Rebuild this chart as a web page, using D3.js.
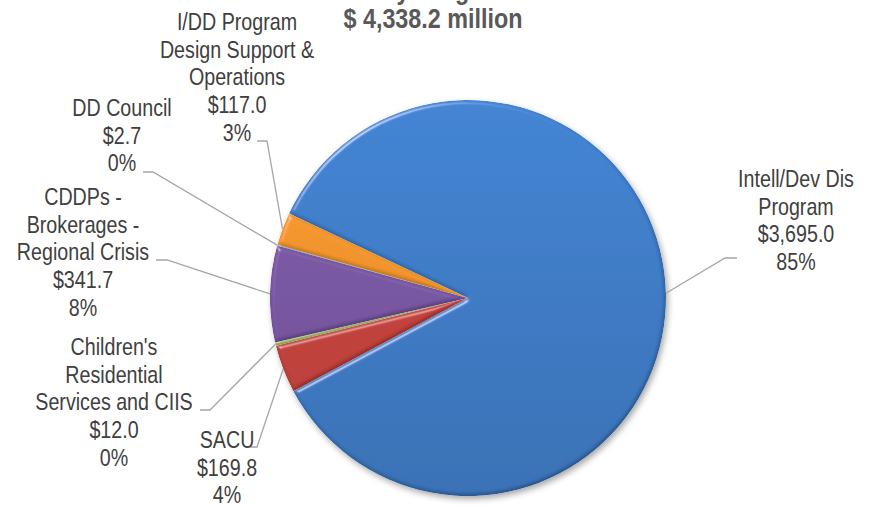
<!DOCTYPE html>
<html>
<head>
<meta charset="utf-8">
<script src="https://cdn.jsdelivr.net/npm/d3@7"></script>
<style>
  html, body { margin: 0; padding: 0; background: #fff; }
  svg { display: block; }
  text { font-family: "Liberation Sans", Arial, sans-serif; }
</style>
</head>
<body>
<svg id="chart" width="878" height="508"></svg>
<script>
// Program budgets, $ millions (slice order runs clockwise from the large slice)
const programs = [
  "Intell/Dev Dis Program",
  "SACU",
  "Children's Residential Services and CIIS",
  "CDDPs - Brokerages - Regional Crisis",
  "DD Council",
  "I/DD Program Design Support & Operations"
];
const budgets = [3695.0, 169.8, 12.0, 341.7, 2.7, 117.0];
// Label text broken into display lines
const labelLines = [
  ["Intell/Dev Dis", "Program"],
  ["SACU"],
  ["Children's", "Residential", "Services and CIIS"],
  ["CDDPs -", "Brokerages -", "Regional Crisis"],
  ["DD Council"],
  ["I/DD Program", "Design Support &", "Operations"]
];
const titleLines = ["Total Funds by Program", "$ 4,338.2 million"];

const sliceColors = ["#3f7ecb", "#c9433d", "#9bbb59", "#7b58a6", "#4bacc6", "#f7962a"];

// Label placement: text centre x, first baseline y, leader elbow (x1 near text, x2 bend, y)
const labelLayout = [
  { cx: 796, y: 187, lx1: 737, lx2: 725, ly: 258 },
  { cx: 227, y: 448, lx1: 250, lx2: 257, ly: 447 },
  { cx: 114, y: 355, lx1: 200, lx2: 210, ly: 410 },
  { cx: 83,  y: 205, lx1: 156, lx2: 167, ly: 260 },
  { cx: 122, y: 116, lx1: 143, lx2: 153, ly: 172 },
  { cx: 237, y: 30,  lx1: 257, lx2: 267, ly: 141 }
];

const W = 878, H = 508;
const cx = 468, cy = 298, R = 198;
const lineH = 27.7;
const narrow = 0.82;   // horizontal condensing of the label face
const total = d3.sum(budgets);

const svg = d3.select("#chart");
const defs = svg.append("defs");

// soft shadow under the pie
const shadow = defs.append("filter").attr("id", "pieShadow")
  .attr("x", "-20%").attr("y", "-20%").attr("width", "140%").attr("height", "140%");
shadow.append("feDropShadow").attr("dx", 2).attr("dy", 3).attr("stdDeviation", 3)
  .attr("flood-color", "#000").attr("flood-opacity", 0.35);

// bevelled edge lighting for each slice
const bevel = defs.append("filter").attr("id", "bevel")
  .attr("x", "-10%").attr("y", "-10%").attr("width", "120%").attr("height", "120%");
bevel.append("feGaussianBlur").attr("in", "SourceAlpha").attr("stdDeviation", 2.2).attr("result", "blur");
const spec = bevel.append("feSpecularLighting").attr("in", "blur")
  .attr("surfaceScale", 3).attr("specularConstant", 0.7).attr("specularExponent", 40)
  .attr("lighting-color", "#ffffff").attr("result", "spec");
spec.append("feDistantLight").attr("azimuth", 235).attr("elevation", 35);
bevel.append("feComposite").attr("in", "spec").attr("in2", "SourceAlpha").attr("operator", "in").attr("result", "specIn");
const diff = bevel.append("feDiffuseLighting").attr("in", "blur")
  .attr("surfaceScale", 3).attr("diffuseConstant", 1.15).attr("lighting-color", "#ffffff").attr("result", "diff");
diff.append("feDistantLight").attr("azimuth", 235).attr("elevation", 60);
bevel.append("feComposite").attr("in", "SourceGraphic").attr("in2", "diff")
  .attr("operator", "arithmetic").attr("k1", 1).attr("k2", 0).attr("k3", 0).attr("k4", 0).attr("result", "lit");
bevel.append("feComposite").attr("in", "lit").attr("in2", "SourceGraphic")
  .attr("operator", "arithmetic").attr("k1", 0).attr("k2", 0.6).attr("k3", 0.4).attr("k4", 0).attr("result", "mix");
bevel.append("feComposite").attr("in", "specIn").attr("in2", "mix")
  .attr("operator", "arithmetic").attr("k1", 0).attr("k2", 0.6).attr("k3", 1).attr("k4", 0).attr("result", "out");
bevel.append("feComposite").attr("in", "out").attr("in2", "SourceAlpha").attr("operator", "in");

// vertical shading per slice colour
sliceColors.forEach((c, i) => {
  const g = defs.append("linearGradient").attr("id", "grad" + i)
    .attr("gradientUnits", "userSpaceOnUse")
    .attr("x1", 0).attr("y1", -R).attr("x2", 0).attr("y2", R);
  g.append("stop").attr("offset", "0%").attr("stop-color", d3.color(c).brighter(0.12));
  g.append("stop").attr("offset", "100%").attr("stop-color", d3.color(c).darker(0.3));
});

const start = 295.3 * Math.PI / 180;
const pie = d3.pie().sort(null).value(d => d)
  .startAngle(start).endAngle(start + 2 * Math.PI);
const arcs = pie(budgets);
const arc = d3.arc().innerRadius(0).outerRadius(R);

const pieG = svg.append("g").attr("transform", `translate(${cx},${cy})`)
  .attr("filter", "url(#pieShadow)");
pieG.selectAll("path.slice").data(arcs).join("path")
  .attr("class", "slice")
  .attr("d", arc)
  .attr("fill", (d, i) => `url(#grad${i})`)
  .attr("filter", "url(#bevel)");

// leader lines
const fmtMoney = v => "$" + d3.format(",.1f")(v);
const fmtPct = d3.format(".0%");
const mid = d => (d.startAngle + d.endAngle) / 2;

svg.append("g").selectAll("polyline").data(arcs).join("polyline")
  .attr("fill", "none")
  .attr("stroke", "#a6a6a6")
  .attr("stroke-width", 1.3)
  .attr("points", (d, i) => {
    const a = mid(d), L = labelLayout[i];
    const px = cx + Math.sin(a) * R, py = cy - Math.cos(a) * R;
    return [[L.lx1, L.ly], [L.lx2, L.ly], [px, py]].map(p => p.join(",")).join(" ");
  });

// data labels, condensed horizontally about their centre line
const labels = svg.append("g").attr("fill", "#404040").attr("font-size", 24);
arcs.forEach((d, i) => {
  const L = labelLayout[i];
  const lines = labelLines[i].concat([fmtMoney(budgets[i]), fmtPct(budgets[i] / total)]);
  const t = labels.append("text").attr("text-anchor", "middle")
    .attr("transform", `translate(${L.cx},0) scale(${narrow},1)`);
  lines.forEach((s, k) => {
    t.append("tspan").attr("x", 0).attr("y", L.y + k * lineH).text(s);
  });
});

// title (upper line runs off the top edge)
const title = svg.append("g").attr("fill", "#595959").attr("font-weight", "bold").attr("font-size", 28.5);
title.append("text").attr("text-anchor", "end")
  .attr("transform", `translate(512,0) scale(${narrow},1)`).attr("x", 0).attr("y", -1).text(titleLines[0]);
title.append("text").attr("text-anchor", "middle")
  .attr("transform", `translate(433,0) scale(${narrow},1)`).attr("x", 0).attr("y", 28).text(titleLines[1]);
</script>
</body>
</html>
